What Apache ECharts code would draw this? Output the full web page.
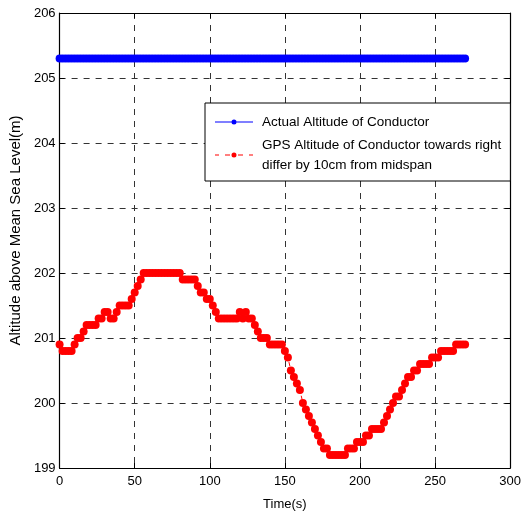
<!DOCTYPE html>
<html>
<head>
<meta charset="utf-8">
<script src="https://cdn.jsdelivr.net/npm/echarts@6/dist/echarts.min.js"></script>
<style>html,body{margin:0;padding:0;background:#fff}#c{width:524px;height:520px}</style>
</head>
<body>
<div id="c"></div>
<script>
var timeS = [0,2,4,6,8,10,12,14,16,18,20,22,24,26,28,30,32,34,36,38,40,42,44,46,48,50,52,54,56,58,
60,62,64,66,68,70,72,74,76,78,80,82,84,86,88,90,92,94,96,98,100,102,104,106,108,110,112,114,116,118,
120,122,124,126,128,130,132,134,136,138,140,142,144,146,148,150,152,154,156,158,160,162,164,166,168,170,172,174,176,178,
180,182,184,186,188,190,192,194,196,198,200,202,204,206,208,210,212,214,216,218,220,222,224,226,228,230,232,234,236,238,
240,242,244,246,248,250,252,254,256,258,260,262,264,266,268,270];

var actualAlt = [205.3,205.3,205.3,205.3,205.3,205.3,205.3,205.3,205.3,205.3,205.3,205.3,205.3,205.3,205.3,205.3,205.3,205.3,205.3,205.3,
205.3,205.3,205.3,205.3,205.3,205.3,205.3,205.3,205.3,205.3,205.3,205.3,205.3,205.3,205.3,205.3,205.3,205.3,205.3,205.3,
205.3,205.3,205.3,205.3,205.3,205.3,205.3,205.3,205.3,205.3,205.3,205.3,205.3,205.3,205.3,205.3,205.3,205.3,205.3,205.3,
205.3,205.3,205.3,205.3,205.3,205.3,205.3,205.3,205.3,205.3,205.3,205.3,205.3,205.3,205.3,205.3,205.3,205.3,205.3,205.3,
205.3,205.3,205.3,205.3,205.3,205.3,205.3,205.3,205.3,205.3,205.3,205.3,205.3,205.3,205.3,205.3,205.3,205.3,205.3,205.3,
205.3,205.3,205.3,205.3,205.3,205.3,205.3,205.3,205.3,205.3,205.3,205.3,205.3,205.3,205.3,205.3,205.3,205.3,205.3,205.3,
205.3,205.3,205.3,205.3,205.3,205.3,205.3,205.3,205.3,205.3,205.3,205.3,205.3,205.3,205.3,205.3];

var gpsAlt = [200.9,200.8,200.8,200.8,200.8,200.9,201.0,201.0,201.1,201.2,201.2,201.2,201.2,201.3,201.3,201.4,201.4,201.3,201.3,201.4,
201.5,201.5,201.5,201.5,201.6,201.7,201.8,201.9,202.0,202.0,202.0,202.0,202.0,202.0,202.0,202.0,202.0,202.0,202.0,202.0,
202.0,201.9,201.9,201.9,201.9,201.9,201.8,201.7,201.7,201.6,201.6,201.5,201.4,201.3,201.3,201.3,201.3,201.3,201.3,201.3,
201.4,201.3,201.4,201.3,201.3,201.2,201.1,201.0,201.0,201.0,200.9,200.9,200.9,200.9,200.9,200.8,200.7,200.5,200.4,200.3,
200.2,200.0,199.9,199.8,199.7,199.6,199.5,199.4,199.3,199.3,199.2,199.2,199.2,199.2,199.2,199.2,199.3,199.3,199.3,199.4,
199.4,199.4,199.5,199.5,199.6,199.6,199.6,199.6,199.7,199.8,199.9,200.0,200.1,200.1,200.2,200.3,200.4,200.4,200.5,200.5,
200.6,200.6,200.6,200.6,200.7,200.7,200.7,200.8,200.8,200.8,200.8,200.8,200.9,200.9,200.9,200.9];

var xTicks = [0,50,100,150,200,250,300];
var yTicks = [199,200,201,202,203,204,205,206];
var seriesNames = ['Actual Altitude of Conductor', 'GPS Altitude of Conductor towards right\ndiffer by 10cm from midspan'];

function pairs(xs, ys){ return xs.map(function(x,i){ return [x, ys[i]]; }); }

var FONT = 'Liberation Sans';
var chart = echarts.init(document.getElementById('c'), null, {renderer:'canvas'});
var gridDash = {show:true, lineStyle:{color:'#333', type:[6,6], width:1}};
var axLine = {show:true, onZero:false, lineStyle:{color:'#000', width:1.2}};
var ticks = {show:true, inside:true, length:5, lineStyle:{color:'#000'}};

chart.setOption({
  animation:false,
  backgroundColor:'#fff',
  grid:{left:57, right:12, top:13, bottom:52, containLabel:false},
  xAxis:[{
    type:'value', min:xTicks[0], max:xTicks[xTicks.length-1], interval:50,
    name:'Time(s)', nameLocation:'middle', nameGap:30,
    nameTextStyle:{color:'#000', fontSize:13, fontFamily:FONT},
    axisLine:axLine, axisTick:ticks, splitLine:gridDash,
    axisLabel:{color:'#000', fontSize:13, fontFamily:FONT, margin:7}
  },{
    type:'value', position:'top', min:xTicks[0], max:xTicks[xTicks.length-1], interval:50,
    axisLine:axLine, axisTick:ticks, splitLine:{show:false}, axisLabel:{show:false}
  }],
  yAxis:[{
    type:'value', min:yTicks[0], max:yTicks[yTicks.length-1], interval:1,
    name:'Altitude above Mean Sea Level(m)', nameLocation:'middle', nameGap:31,
    nameTextStyle:{color:'#000', fontSize:15, fontFamily:FONT, padding:[0,0,0,20]},
    axisLine:axLine, axisTick:ticks, splitLine:gridDash,
    axisLabel:{color:'#000', fontSize:13, fontFamily:FONT, margin:4}
  },{
    type:'value', position:'right', min:yTicks[0], max:yTicks[yTicks.length-1], interval:1,
    axisLine:axLine, axisTick:ticks, splitLine:{show:false}, axisLabel:{show:false}
  }],
  legend:{
    orient:'vertical', left:205, top:103,
    backgroundColor:'#fff', borderColor:'#000', borderWidth:1,
    padding:[9,9,6,10], itemGap:3, itemWidth:38, itemHeight:5,
    textStyle:{color:'#000', fontSize:13.5, fontFamily:FONT, lineHeight:20, padding:[0,0,0,4]},
    data:[
      {name:seriesNames[0], icon:'path://M0,2 L16.5,2 L16.5,3 L0,3 Z M21.5,2 L38,2 L38,3 L21.5,3 Z M16.5,2.5 A2.5,2.5 0 1 1 21.5,2.5 A2.5,2.5 0 1 1 16.5,2.5 Z'},
      {name:seriesNames[1], icon:'path://M0,2 L4,2 L4,3 L0,3 Z M10,2 L15,2 L15,3 L10,3 Z M23,2 L28,2 L28,3 L23,3 Z M34,2 L38,2 L38,3 L34,3 Z M16.5,2.5 A2.5,2.5 0 1 1 21.5,2.5 A2.5,2.5 0 1 1 16.5,2.5 Z'}
    ]
  },
  series:[{
    name:seriesNames[0], type:'line', data:pairs(timeS, actualAlt),
    symbol:'circle', symbolSize:8, showSymbol:true,
    itemStyle:{color:'#0000ff'}, lineStyle:{color:'#0000ff', width:1}
  },{
    name:seriesNames[1], type:'line', data:pairs(timeS, gpsAlt),
    symbol:'circle', symbolSize:8, showSymbol:true,
    itemStyle:{color:'#ff0000'}, lineStyle:{color:'#ff0000', width:1, type:'dashed'}
  }]
});
</script>
</body>
</html>
